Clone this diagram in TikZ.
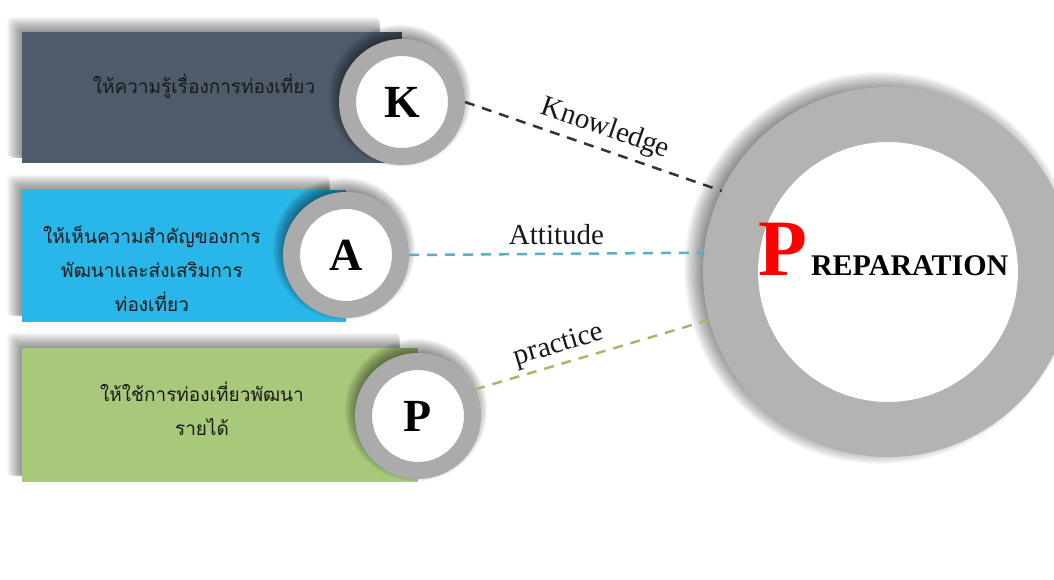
\documentclass[tikz,border=0pt]{standalone}
\usepackage{fontspec}
\setmainfont{Liberation Serif}
\newfontfamily\thaifont[Script=Thai]{Loma}
\definecolor{barK}{HTML}{4E5B6A}
\definecolor{barA}{HTML}{29B6E8}
\definecolor{barP}{HTML}{A9C97A}
\definecolor{ringgray}{HTML}{ABABAB}
\definecolor{bigring}{HTML}{B3B3B3}
\definecolor{dashKc}{HTML}{333333}
\definecolor{dashAc}{HTML}{5AAFC8}
\definecolor{dashPc}{HTML}{A9B86A}
\begin{document}
\begin{tikzpicture}[x=1pt,y=-1pt,
  bar/.style={rectangle, inner sep=0pt, anchor=north west},
  ring/.style={circle, draw=ringgray, line width=17pt, fill=white, minimum size=109pt, inner sep=0pt,
    font=\fontsize{46}{46}\selectfont\bfseries},
  bigringstyle/.style={circle, draw=bigring, line width=55pt, fill=white, minimum size=315pt, inner sep=0pt},
  thai/.style={font=\thaifont\fontsize{19}{34}\selectfont, align=center, text=black!90},
  lab/.style={font=\fontsize{29}{29}\selectfont, text=black!90, inner sep=2pt},
  conn/.style={dashed, dash pattern=on 10pt off 8pt, line width=2.5pt},
  shade/.style={black, opacity=0.03},
  cshade/.style={black, opacity=0.045}
]
\useasboundingbox (0,0) rectangle (1054,580);
\fill[white] (0,0) rectangle (1054,580);

% bar shadows and bars
\foreach \i in {0,...,15} \fill[shade, rounded corners=4pt] ({22-\i},{32-\i}) rectangle (380,158);
\node[bar, fill=barK, minimum width=380pt, minimum height=131pt] (kbar) at (22,32) {};
\foreach \i in {0,...,15} \fill[shade, rounded corners=4pt] ({22-\i},{190-\i}) rectangle (330,316);
\node[bar, fill=barA, minimum width=324pt, minimum height=132pt] (abar) at (22,190) {};
\foreach \i in {0,...,15} \fill[shade, rounded corners=4pt] ({22-\i},{348-\i}) rectangle (400,476);
\node[bar, fill=barP, minimum width=396pt, minimum height=134pt] (pbar) at (22,348) {};

% bar texts
\node[thai] (ktext) at (204,86) {ให้ความรู้เรื่องการท่องเที่ยว};
\node[thai] (atext) at (152,269) {ให้เห็นความสำคัญของการ\\พัฒนาและส่งเสริมการ\\ท่องเที่ยว};
\node[thai] (ptext) at (202,409) {ให้ใช้การท่องเที่ยวพัฒนา\\รายได้};

% big circle with soft shadow
\foreach \i in {0,...,15} \fill[shade] (880,268) circle[radius={178pt+1.2pt*\i}];
\node[bigringstyle] (prep) at (888,272) {};
\node[anchor=base west, inner sep=0pt] (preptext) at (758,275)
  {\textcolor{red}{\fontsize{80}{80}\selectfont\bfseries P}\hspace{4pt}{\fontsize{30}{30}\selectfont\bfseries REPARATION}};

% small circles with soft shadows
\foreach \i in {0,...,11} \fill[cshade] (400,96) circle[radius={58pt+1.2pt*\i}];
\node[ring] (k) at (402,102) {K};
\foreach \i in {0,...,11} \fill[cshade] (344,249) circle[radius={58pt+1.2pt*\i}];
\node[ring] (a) at (346,255) {A};
\foreach \i in {0,...,11} \fill[cshade] (416,410) circle[radius={58pt+1.2pt*\i}];
\node[ring] (p) at (418,416) {P};

% connectors
\draw[conn, draw=dashKc] (k.east) -- node[sloped, above=4pt, pos=0.52, lab] (klab) {Knowledge} (prep.154);
\draw[conn, draw=dashAc] (a.east) -- node[above=6pt, pos=0.5, lab] (alab) {Attitude} (prep.174.6);
\draw[conn, draw=dashPc] (p.25) -- node[sloped, above=2pt, pos=0.38, lab] (plab) {practice} (prep.195.8);
\end{tikzpicture}
\end{document}
